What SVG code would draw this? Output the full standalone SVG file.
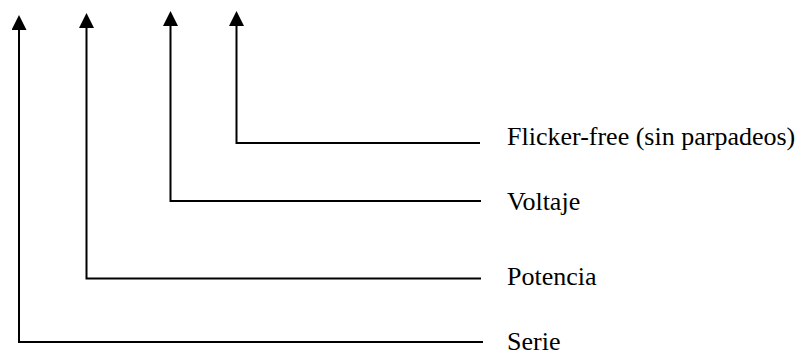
<svg xmlns="http://www.w3.org/2000/svg" width="806" height="356" viewBox="0 0 806 356">
<style>
.c{fill:none;stroke:#000;stroke-width:2}
.t{font-family:"Liberation Serif","Times New Roman",serif;font-size:26px;fill:#000}
</style>
<defs>
<marker id="ah" markerUnits="userSpaceOnUse" markerWidth="15" markerHeight="15" viewBox="0 0 15 15" refX="0" refY="7.5" orient="auto">
<path d="M0,0 L15,7.5 L0,15 z" fill="#000"/>
</marker>
</defs>
<rect width="806" height="356" fill="#fff"/>
<g id="connectors">
<path class="c" d="M483,342 H19 V30" marker-end="url(#ah)"/>
<path class="c" d="M481,278.5 H86.5 V28" marker-end="url(#ah)"/>
<path class="c" d="M481,201 H170.5 V26" marker-end="url(#ah)"/>
<path class="c" d="M480,143 H236.5 V26" marker-end="url(#ah)"/>
</g>
<g id="n-flicker"><text class="t" x="507" y="144.5">Flicker-free (sin parpadeos)</text></g>
<g id="n-voltaje"><text class="t" x="507" y="209.5">Voltaje</text></g>
<g id="n-potencia"><text class="t" x="507" y="284.5">Potencia</text></g>
<g id="n-serie"><text class="t" x="507" y="350">Serie</text></g>
</svg>
